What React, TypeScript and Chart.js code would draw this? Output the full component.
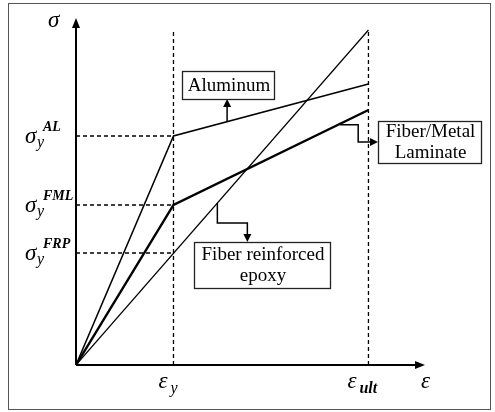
import React, { useEffect, useRef } from "react";
import { Chart, registerables } from "chart.js";

Chart.register(...registerables);

// Strain values (in units of yield strain)
const strainYield = 1;
const strainUlt = 3;
const strainMax = 3.58;
const stressMax = 3.47;

// Stress-strain curves (schematic)
const alStrain = [0, strainYield, strainUlt];
const alStress = [0, 2.29, 2.81];
const fmlStrain = [0, strainYield, strainUlt];
const fmlStress = [0, 1.6, 2.55];
const frpStrain = [0, strainUlt];
const frpStress = [0, 3.35];

// Yield stress reference labels
const yieldSup = ["AL", "FML", "FRP"];
const yieldStress = [2.29, 1.6, 1.12];
const guideTop = 3.36;

// Callout labels
const calloutAL = ["Aluminum"];
const calloutFML = ["Fiber/Metal", "Laminate"];
const calloutFRP = ["Fiber reinforced", "epoxy"];

const pts = (xs: number[], ys: number[]) => xs.map((x, i) => ({ x, y: ys[i] }));

const SERIF = "'Liberation Serif', 'Times New Roman', serif";

const overlay = {
  id: "overlay",
  beforeDraw(chart: any) {
    const ctx = chart.ctx;
    ctx.save();
    ctx.fillStyle = "#fff";
    ctx.fillRect(0, 0, chart.width, chart.height);
    ctx.strokeStyle = "#555";
    ctx.lineWidth = 1;
    ctx.strokeRect(8.5, 3.5, 482, 406);
    ctx.restore();
  },
  afterDatasetsDraw(chart: any) {
    const ctx = chart.ctx;
    const xs = chart.scales.x;
    const ys = chart.scales.y;
    const px = (v: number) => xs.getPixelForValue(v);
    const py = (v: number) => ys.getPixelForValue(v);
    const x0 = px(0);
    const y0 = py(0);
    const xEnd = px(strainMax);
    const yEnd = py(stressMax);
    ctx.save();
    ctx.strokeStyle = "#000";
    ctx.fillStyle = "#000";
    // axes
    ctx.lineWidth = 2;
    ctx.beginPath();
    ctx.moveTo(x0, y0);
    ctx.lineTo(x0, yEnd + 8);
    ctx.moveTo(x0, y0);
    ctx.lineTo(xEnd - 8, y0);
    ctx.stroke();
    const tri = (ax: number, ay: number, dir: string, len: number, half: number) => {
      ctx.beginPath();
      ctx.moveTo(ax, ay);
      if (dir === "up") { ctx.lineTo(ax - half, ay + len); ctx.lineTo(ax + half, ay + len); }
      if (dir === "down") { ctx.lineTo(ax - half, ay - len); ctx.lineTo(ax + half, ay - len); }
      if (dir === "right") { ctx.lineTo(ax - len, ay - half); ctx.lineTo(ax - len, ay + half); }
      ctx.closePath();
      ctx.fill();
    };
    tri(x0, yEnd, "up", 10, 4);
    tri(xEnd, y0, "right", 10, 4);

    // math labels
    const it = (size: number, bold = false) => `italic ${bold ? "bold " : ""}${size}px ${SERIF}`;
    ctx.textBaseline = "alphabetic";
    ctx.textAlign = "left";
    ctx.font = it(23);
    ctx.fillText("σ", 48, 27);
    ctx.fillText("ε", 421, 388);

    yieldStress.forEach((s, i) => {
      const b = py(s) + 7;
      ctx.font = it(23);
      ctx.fillText("σ", 25, b);
      ctx.font = it(16);
      ctx.fillText("y", 37, b + 4);
      ctx.font = it(14, true);
      ctx.fillText(yieldSup[i], 43, b - 12);
    });

    ctx.font = it(23);
    ctx.fillText("ε", px(strainYield) - 15, 388);
    ctx.font = it(16);
    ctx.fillText("y", px(strainYield) - 3, 393);
    ctx.font = it(23);
    ctx.fillText("ε", px(strainUlt) - 21, 388);
    ctx.font = it(16, true);
    ctx.fillText("ult", px(strainUlt) - 9, 393);

    // callouts
    const box = (l: number, t: number, w: number, h: number, lines: string[]) => {
      ctx.fillStyle = "#fff";
      ctx.fillRect(l, t, w, h);
      ctx.lineWidth = 1.3;
      ctx.strokeStyle = "#222";
      ctx.strokeRect(l + 0.5, t + 0.5, w, h);
      ctx.fillStyle = "#000";
      ctx.font = `19px ${SERIF}`;
      ctx.textAlign = "center";
      ctx.textBaseline = "middle";
      const lh = 21;
      const start = t + h / 2 - ((lines.length - 1) * lh) / 2 + 1;
      lines.forEach((ln, k) => ctx.fillText(ln, l + w / 2 + 1, start + k * lh));
    };
    const path = (p: number[][]) => {
      ctx.strokeStyle = "#000";
      ctx.lineWidth = 1.5;
      ctx.beginPath();
      ctx.moveTo(p[0][0], p[0][1]);
      for (let k = 1; k < p.length; k++) ctx.lineTo(p[k][0], p[k][1]);
      ctx.stroke();
    };

    // Aluminum
    const aX = 1.55;
    const aY = alStress[1] + ((aX - strainYield) / (strainUlt - strainYield)) * (alStress[2] - alStress[1]);
    const ax = px(aX), ay = py(aY);
    path([[ax, ay], [ax, 104]]);
    tri(ax, 99, "up", 8, 4);
    box(182, 71, 92, 28, calloutAL);

    // FML
    const fX = 2.71;
    const fY = fmlStress[1] + ((fX - strainYield) / (strainUlt - strainYield)) * (fmlStress[2] - fmlStress[1]);
    const fx = px(fX), fy = py(fY);
    path([[fx, fy + 1], [fx + 18, fy + 1], [fx + 18, 142], [372, 142]]);
    tri(378, 142, "right", 8, 4);
    box(378, 121, 103, 42, calloutFML);

    // FRP
    const rX = 1.45;
    const rY = (rX / strainUlt) * frpStress[1];
    const rx = px(rX), ry = py(rY);
    path([[rx, ry], [rx, 223], [rx + 30, 223], [rx + 30, 236]]);
    tri(rx + 30, 242, "down", 8, 4);
    box(194, 242, 136, 46, calloutFRP);

    ctx.restore();
  },
};

export default function App() {
  const ref = useRef<HTMLCanvasElement>(null);
  useEffect(() => {
    if (!ref.current) return;
    const dash = { borderColor: "#000", borderWidth: 1.3, borderDash: [4, 3], pointRadius: 0, showLine: true, fill: false };
    const datasets: any[] = [
      ...yieldStress.map((s, i) => ({ label: "yield " + yieldSup[i], data: pts([0, strainYield], [s, s]), ...dash })),
      { label: "eps y", data: pts([strainYield, strainYield], [0, guideTop]), ...dash },
      { label: "eps ult", data: pts([strainUlt, strainUlt], [0, guideTop]), ...dash },
      { label: "Aluminum", data: pts(alStrain, alStress), borderColor: "#000", borderWidth: 1.5, pointRadius: 0, showLine: true },
      { label: "FML", data: pts(fmlStrain, fmlStress), borderColor: "#000", borderWidth: 2.4, pointRadius: 0, showLine: true },
      { label: "FRP", data: pts(frpStrain, frpStress), borderColor: "#000", borderWidth: 1.2, pointRadius: 0, showLine: true },
    ];
    const chart = new Chart(ref.current, {
      type: "scatter",
      data: { datasets },
      options: {
        animation: false,
        responsive: false,
        devicePixelRatio: 1,
        layout: { padding: { left: 76, right: 70, top: 18, bottom: 47 } },
        plugins: { legend: { display: false }, tooltip: { enabled: false } },
        scales: {
          x: { type: "linear", min: 0, max: strainMax, display: false },
          y: { type: "linear", min: 0, max: stressMax, display: false },
        },
      },
      plugins: [overlay],
    } as any);
    return () => chart.destroy();
  }, []);
  return (
    <div style={{ position: "absolute", left: 0, top: 0, width: 495, height: 412 }}>
      <canvas ref={ref} width={495} height={412} style={{ display: "block" }} />
    </div>
  );
}
